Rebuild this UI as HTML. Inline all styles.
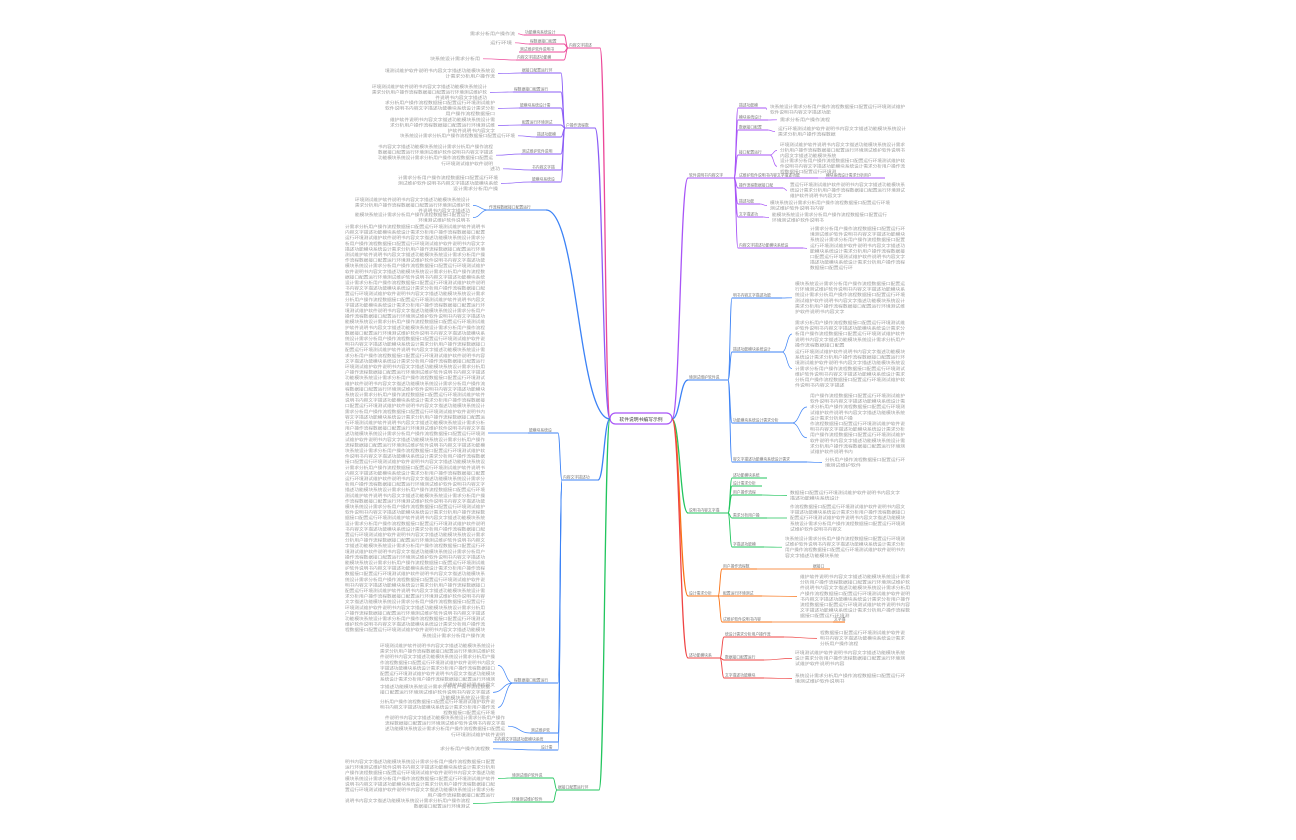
<!DOCTYPE html>
<html><head><meta charset="utf-8">
<style>
html,body{margin:0;padding:0;background:#fff;width:1296px;height:840px;overflow:hidden}
svg{position:absolute;left:0;top:0}
text{font-family:"Liberation Sans","Noto Sans CJK SC",sans-serif}
</style></head>
<body>
<svg id="s" width="1296" height="840" viewBox="0 0 1296 840"></svg>
<script>
const S=document.getElementById('s');
const NS='http://www.w3.org/2000/svg';
const F='软件说明书内容文字描述功能模块系统设计需求分析用户操作流程数据接口配置运行环境测试维护';
function el(t,a,txt){const e=document.createElementNS(NS,t);for(const k in a)e.setAttribute(k,a[k]);if(txt)e.textContent=txt;S.appendChild(e);return e;}
function curve(x1,y1,x2,y2,c,w){const m=(x1+x2)/2;el('path',{d:`M${x1},${y1} C${m},${y1} ${m},${y2} ${x2},${y2}`,fill:'none',stroke:c,'stroke-width':w||1});}
let fi=0;
function filler(n){let s='';for(let i=0;i<n;i++){s+=F[(fi++)%F.length];}return s;}
function label(x,y,w,c){
  el('text',{x:x+1,y:y-1.5,'font-size':3.8,fill:'#777'},filler(Math.max(3,Math.floor(w/5))));
  el('line',{x1:x,y1:y,x2:x+w,y2:y,stroke:c,'stroke-width':1.1});
}
function block(x,y,w,n,right){
  for(let i=0;i<n;i++){
    const ww=(i==n-1&&n>1)?w*0.45:w;
    el('text',{x:right?x+w-ww:x,y:y+i*5.6+4,'font-size':3.8,fill:'#999',textLength:ww,lengthAdjust:'spacingAndGlyphs'},filler(Math.floor(ww/4.6)));
  }
}
el('rect',{x:610,y:413,width:62,height:11,rx:5.5,fill:'#fff',stroke:'#a855f7','stroke-width':1.2});
el('text',{x:641,y:421,'font-size':4.8,fill:'#444','text-anchor':'middle'},'软件说明书编写示例');

const R=[
 {c:'#a855f7',y:178,lx:688,lw:46,ch:[
  {y:108,w:28,b:[[770,104,135,2]]},
  {y:120,w:30,b:[[780,117,50,1]]},
  {y:130,w:30,b:[[778,126,128,2]]},
  {y:155,w:32,b:[[780,142,125,3],[780,158,125,3]]},
  {y:178,w:80,n:[825,178,60]},
  {y:188,w:45,b:[[790,182,115,3]]},
  {y:204,w:22,b:[[770,200,120,2]]},
  {y:217,w:25,b:[[772,212,115,2]]},
  {y:248,w:65,b:[[810,226,95,8]]}]},
 {c:'#3b82f6',y:380,lx:688,lw:40,ch:[
  {y:298,w:50,b:[[795,281,110,6]]},
  {y:352,w:50,b:[[795,320,110,5],[795,349,110,7]]},
  {y:423,w:60,b:[[810,393,95,5],[810,421,95,6]]},
  {y:462,w:75,b:[[825,457,80,2]]}]},
 {c:'#22c55e',y:513,lx:688,lw:40,ch:[
  {y:478,w:35},{y:486,w:30},
  {y:495,w:30,b:[[790,490,110,2]]},
  {y:518,w:35,b:[[790,504,115,5]]},
  {y:547,w:32,b:[[785,536,120,4]]}]},
 {c:'#f97316',y:596,lx:688,lw:30,ch:[
  {y:569,w:35,n:[812,569,18]},
  {y:596,w:40,b:[[800,574,110,8]]},
  {y:622,w:50,n:[833,622,12]}]},
 {c:'#ef4444',y:658,lx:688,lw:32,ch:[
  {y:637,w:60,b:[[820,630,85,3]]},
  {y:660,w:40,b:[[795,650,110,3]]},
  {y:678,w:40,b:[[795,673,110,2]]}]}
];
R.forEach(B=>{
  curve(672,419,B.lx,B.y,B.c,1.3);
  label(B.lx,B.y,B.lw,B.c);
  const px=B.lx+B.lw;
  B.ch.forEach(C=>{
    const cx=px+4;
    curve(px,B.y,cx,C.y,B.c,0.9);
    label(cx,C.y,C.w,B.c);
    const ex=cx+C.w;
    if(C.b)C.b.forEach(b=>{const my=b[1]+b[3]*2.8;curve(ex,C.y,b[0]-3,my,B.c,0.7);block(b[0],b[1],b[2],b[3]);});
    if(C.n){el('line',{x1:ex,y1:C.y,x2:C.n[0],y2:C.y,stroke:B.c,'stroke-width':0.7});label(C.n[0],C.n[1],C.n[2],B.c);}
  });
});

const L=[
 {c:'#ec4899',y:48,lx:568,lw:32,ch:[
  {y:35,w:40,b:[[470,31,45,1]]},
  {y:44,w:35,b:[[490,40,22,1]]},
  {y:52,w:45},
  {y:60,w:48,b:[[430,56,50,1]]}]},
 {c:'#8b5cf6',y:128,lx:565,lw:30,ch:[
  {y:73,w:40,b:[[385,68,110,2]]},
  {y:92,w:48,b:[[372,84,115,3]]},
  {y:108,w:42,b:[[385,100,110,3]]},
  {y:125,w:40,b:[[390,117,105,3]]},
  {y:137,w:25,b:[[400,133,115,1]]},
  {y:154,w:40,b:[[378,144,115,4]]},
  {y:170,w:30,b:[[490,166,10,1]]},
  {y:182,w:30,b:[[398,175,100,3]]}]},
 {c:'#3b82f6',y:210,lx:488,lw:58,ch:[],bb:[[355,197,115,3],[355,212,115,2]]},
 {c:'#3b82f6',y:480,lx:562,lw:36,ch:[
  {y:433,w:30,b:[[345,224,140,74]]},
  {y:683,w:45,b:[[380,643,115,8],[380,684,110,3],[380,699,115,3]]},
  {y:733,w:28,b:[[385,715,120,4]]},
  {y:742,w:65},
  {y:750,w:18,b:[[440,746,50,1]]}]},
 {c:'#22c55e',y:790,lx:557,lw:42,ch:[
  {y:778,w:42,b:[[345,759,150,7]]},
  {y:802,w:42,b:[[345,798,125,2]]}]}
];
L.forEach(B=>{
  curve(610,419,B.lx+B.lw,B.y,B.c,1.3);
  label(B.lx,B.y,B.lw,B.c);
  const px=B.lx;
  if(B.bb)B.bb.forEach(b=>{curve(px,B.y,b[0]+b[2]+3,b[1]+b[3]*2.8,B.c,0.7);block(b[0],b[1],b[2],b[3],true);});
  B.ch.forEach(C=>{
    const cx=px-4-C.w;
    curve(px,B.y,cx+C.w,C.y,B.c,0.9);
    label(cx,C.y,C.w,B.c);
    if(C.b)C.b.forEach(b=>{const my=b[1]+Math.min(b[3],8)*2.8;curve(cx,C.y,b[0]+b[2]+3,b[3]>20?C.y:my,B.c,0.7);block(b[0],b[1],b[2],b[3],true);});
  });
});
</script>
</body></html>
